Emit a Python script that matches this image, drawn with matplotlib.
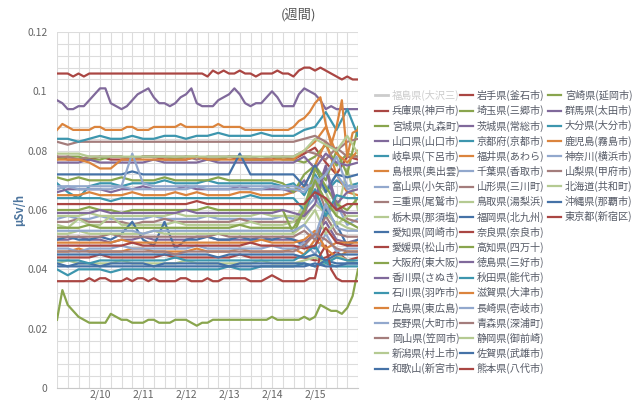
import numpy as np
import matplotlib.pyplot as plt
from matplotlib.ticker import MultipleLocator, FixedLocator, FixedFormatter

plt.rcParams['font.family'] = ['Noto Sans CJK JP', 'DejaVu Sans']

# time axis: hours from 2/9 00:00, readings
hours_3h = np.arange(0, 169, 3)
hours_6h = np.arange(0, 169, 6)

day_ticks = [1, 2, 3, 4, 5, 6]
day_labels = ['2/10', '2/11', '2/12', '2/13', '2/14', '2/15']
y_ticks = [0, 0.02, 0.04, 0.06, 0.08, 0.1, 0.12]
y_labels = ['0', '0.02', '0.04', '0.06', '0.08', '0.1', '0.12']

# --- 3 hour series (the ones that stand out) ---
iwate = [0.106,0.106,0.106,0.105,0.106,0.105,0.106,0.106,0.106,0.106,
         0.106,0.106,0.106,0.106,0.106,0.106,0.106,0.106,0.106,0.106,
         0.106,0.106,0.106,0.106,0.106,0.106,0.106,0.106,0.105,0.107,
         0.106,0.107,0.106,0.106,0.107,0.106,0.106,0.105,0.106,0.106,
         0.106,0.107,0.106,0.106,0.105,0.107,0.108,0.108,0.107,0.108,
         0.107,0.106,0.105,0.104,0.105,0.104,0.104]
gunma = [0.097,0.096,0.094,0.094,0.095,0.095,0.097,0.099,0.101,0.101,
         0.096,0.095,0.094,0.095,0.097,0.099,0.100,0.101,0.098,0.096,
         0.096,0.095,0.096,0.098,0.099,0.101,0.096,0.095,0.095,0.095,
         0.097,0.098,0.099,0.101,0.099,0.096,0.095,0.096,0.096,0.098,
         0.100,0.098,0.095,0.095,0.095,0.099,0.101,0.100,0.099,0.097,
         0.094,0.095,0.094,0.094,0.094,0.094,0.094]
osaka = [0.023,0.033,0.028,0.026,0.024,0.023,0.022,0.022,0.022,0.022,
         0.025,0.024,0.023,0.023,0.022,0.022,0.022,0.023,0.023,0.022,
         0.022,0.022,0.023,0.023,0.023,0.022,0.021,0.022,0.022,0.023,
         0.023,0.023,0.023,0.023,0.023,0.023,0.023,0.023,0.023,0.023,
         0.024,0.023,0.023,0.023,0.023,0.023,0.024,0.023,0.024,0.028,
         0.027,0.026,0.026,0.025,0.027,0.031,0.040]
nara = [0.036,0.036,0.036,0.036,0.036,0.036,0.037,0.036,0.037,0.037,
        0.036,0.036,0.036,0.037,0.036,0.037,0.037,0.036,0.037,0.036,
        0.036,0.036,0.036,0.037,0.037,0.036,0.036,0.036,0.037,0.036,
        0.036,0.037,0.037,0.037,0.037,0.037,0.036,0.036,0.036,0.037,
        0.038,0.037,0.036,0.036,0.036,0.036,0.036,0.037,0.037,0.045,
        0.048,0.040,0.037,0.036,0.036,0.036,0.036]
kagoshima = [0.087,0.089,0.088,0.087,0.087,0.087,0.087,0.088,0.088,0.087,
             0.087,0.087,0.087,0.088,0.088,0.087,0.087,0.087,0.088,0.088,
             0.088,0.088,0.088,0.089,0.088,0.088,0.088,0.088,0.088,0.088,
             0.089,0.088,0.088,0.088,0.088,0.087,0.087,0.087,0.087,0.087,
             0.087,0.087,0.087,0.087,0.088,0.090,0.091,0.093,0.096,0.098,
             0.089,0.082,0.088,0.097,0.078,0.086,0.087]

# --- 6 hour series ---
hyogo = [0.078,0.077,0.077,0.077,0.078,0.077,0.077,0.077,0.078,0.078,0.077,0.077,0.077,0.078,0.077,0.077,0.078,0.077,0.077,0.077,0.077,0.078,0.077,0.079,0.081,0.076,0.072,0.078,0.077]
miyagi = [0.077,0.078,0.078,0.077,0.077,0.078,0.078,0.077,0.078,0.078,0.078,0.077,0.078,0.078,0.077,0.077,0.078,0.078,0.077,0.077,0.078,0.077,0.077,0.076,0.078,0.082,0.075,0.079,0.078]
yamaguchi = [0.050,0.050,0.051,0.050,0.050,0.049,0.050,0.050,0.051,0.050,0.050,0.050,0.050,0.051,0.051,0.050,0.050,0.050,0.050,0.051,0.050,0.050,0.050,0.049,0.052,0.056,0.050,0.049,0.050]
gifu = [0.069,0.066,0.064,0.068,0.069,0.069,0.068,0.069,0.069,0.069,0.070,0.069,0.069,0.069,0.070,0.069,0.069,0.069,0.069,0.069,0.069,0.068,0.069,0.065,0.072,0.066,0.070,0.068,0.069]
shimane = [0.065,0.065,0.065,0.066,0.065,0.065,0.065,0.066,0.065,0.065,0.065,0.066,0.065,0.066,0.065,0.065,0.065,0.066,0.066,0.065,0.065,0.065,0.066,0.068,0.075,0.083,0.072,0.066,0.065]
toyama = [0.057,0.058,0.057,0.057,0.058,0.057,0.057,0.057,0.057,0.058,0.057,0.057,0.057,0.057,0.058,0.057,0.057,0.057,0.057,0.057,0.057,0.058,0.057,0.060,0.064,0.058,0.062,0.055,0.057]
mie = [0.056,0.056,0.057,0.056,0.056,0.056,0.056,0.055,0.056,0.056,0.057,0.056,0.056,0.056,0.056,0.056,0.056,0.057,0.056,0.056,0.056,0.056,0.056,0.058,0.070,0.060,0.063,0.057,0.056]
tochigi = [0.055,0.054,0.057,0.055,0.055,0.058,0.055,0.055,0.055,0.055,0.055,0.056,0.055,0.055,0.055,0.055,0.055,0.055,0.056,0.055,0.055,0.055,0.056,0.062,0.070,0.066,0.058,0.074,0.060]
aichi = [0.050,0.051,0.050,0.050,0.051,0.050,0.052,0.056,0.050,0.048,0.056,0.047,0.050,0.050,0.051,0.050,0.050,0.051,0.050,0.050,0.050,0.051,0.050,0.048,0.047,0.060,0.055,0.048,0.050]
ehime = [0.044,0.044,0.044,0.044,0.045,0.044,0.044,0.044,0.044,0.044,0.045,0.044,0.044,0.044,0.044,0.044,0.044,0.045,0.044,0.044,0.044,0.044,0.044,0.044,0.043,0.044,0.046,0.043,0.044]
kagawa = [0.066,0.067,0.067,0.067,0.067,0.066,0.067,0.067,0.068,0.067,0.067,0.067,0.068,0.067,0.067,0.067,0.067,0.068,0.067,0.067,0.067,0.067,0.066,0.070,0.064,0.075,0.062,0.066,0.067]
ishikawa = [0.040,0.038,0.040,0.040,0.040,0.039,0.040,0.040,0.040,0.040,0.040,0.040,0.040,0.040,0.040,0.040,0.041,0.040,0.040,0.041,0.041,0.041,0.041,0.042,0.041,0.042,0.041,0.041,0.041]
hiroshima = [0.046,0.046,0.047,0.046,0.046,0.046,0.046,0.047,0.047,0.046,0.046,0.046,0.046,0.047,0.046,0.046,0.046,0.047,0.046,0.046,0.046,0.046,0.047,0.045,0.050,0.047,0.044,0.046,0.046]
nagano = [0.047,0.047,0.046,0.047,0.047,0.047,0.048,0.047,0.047,0.047,0.047,0.047,0.047,0.048,0.047,0.047,0.047,0.047,0.047,0.047,0.048,0.047,0.047,0.049,0.045,0.052,0.046,0.047,0.047]
okayama = [0.078,0.078,0.077,0.078,0.078,0.078,0.078,0.077,0.078,0.078,0.078,0.078,0.078,0.077,0.078,0.078,0.078,0.078,0.078,0.077,0.078,0.078,0.078,0.080,0.079,0.077,0.081,0.078,0.078]
niigata = [0.042,0.043,0.042,0.042,0.042,0.042,0.043,0.042,0.042,0.042,0.042,0.042,0.043,0.042,0.042,0.042,0.042,0.042,0.042,0.043,0.042,0.042,0.042,0.043,0.044,0.042,0.045,0.043,0.042]
wakayama = [0.042,0.041,0.042,0.042,0.041,0.042,0.042,0.042,0.042,0.041,0.042,0.042,0.042,0.042,0.042,0.042,0.041,0.042,0.042,0.042,0.042,0.042,0.042,0.042,0.041,0.043,0.042,0.042,0.042]
saitama = [0.071,0.070,0.071,0.070,0.070,0.070,0.071,0.070,0.070,0.070,0.071,0.070,0.070,0.070,0.070,0.071,0.070,0.070,0.070,0.070,0.070,0.069,0.066,0.072,0.075,0.070,0.080,0.072,0.088]
ibaraki = [0.076,0.076,0.076,0.077,0.076,0.076,0.076,0.076,0.076,0.077,0.076,0.076,0.076,0.076,0.077,0.076,0.076,0.076,0.076,0.076,0.076,0.076,0.076,0.078,0.074,0.079,0.076,0.075,0.076]
kyoto = [0.043,0.043,0.043,0.042,0.043,0.043,0.043,0.043,0.043,0.043,0.043,0.044,0.043,0.043,0.043,0.043,0.043,0.043,0.043,0.043,0.043,0.043,0.043,0.045,0.048,0.042,0.044,0.043,0.043]
fukui = [0.077,0.077,0.077,0.076,0.074,0.074,0.077,0.077,0.077,0.077,0.077,0.077,0.077,0.078,0.077,0.077,0.077,0.077,0.077,0.077,0.077,0.077,0.077,0.080,0.083,0.088,0.079,0.076,0.080]
chiba = [0.067,0.068,0.067,0.067,0.067,0.067,0.068,0.067,0.067,0.067,0.067,0.067,0.067,0.068,0.067,0.067,0.067,0.067,0.067,0.067,0.068,0.067,0.067,0.066,0.071,0.067,0.072,0.067,0.068]
yamagata = [0.051,0.051,0.051,0.051,0.051,0.052,0.051,0.051,0.051,0.051,0.051,0.051,0.051,0.051,0.051,0.052,0.051,0.051,0.051,0.051,0.051,0.051,0.051,0.053,0.050,0.058,0.052,0.051,0.051]
tottori = [0.058,0.058,0.058,0.059,0.058,0.058,0.058,0.058,0.058,0.058,0.058,0.059,0.058,0.058,0.058,0.058,0.058,0.058,0.058,0.059,0.058,0.058,0.058,0.057,0.062,0.059,0.055,0.058,0.058]
fukuoka = [0.072,0.072,0.072,0.072,0.072,0.072,0.072,0.073,0.072,0.072,0.072,0.072,0.072,0.072,0.072,0.072,0.072,0.079,0.072,0.072,0.072,0.072,0.072,0.068,0.075,0.066,0.072,0.071,0.072]
kochi = [0.060,0.060,0.060,0.061,0.060,0.060,0.059,0.060,0.060,0.060,0.060,0.060,0.060,0.060,0.061,0.060,0.060,0.060,0.060,0.060,0.060,0.060,0.052,0.060,0.074,0.068,0.062,0.060,0.064]
tokushima = [0.059,0.059,0.059,0.059,0.060,0.059,0.059,0.059,0.059,0.059,0.059,0.059,0.060,0.059,0.059,0.059,0.059,0.059,0.059,0.059,0.059,0.060,0.059,0.058,0.062,0.074,0.060,0.059,0.059]
akita = [0.064,0.064,0.064,0.064,0.064,0.063,0.064,0.064,0.064,0.064,0.064,0.064,0.064,0.064,0.064,0.064,0.064,0.064,0.065,0.064,0.064,0.064,0.064,0.060,0.067,0.058,0.065,0.064,0.064]
shiga = [0.049,0.049,0.049,0.049,0.049,0.049,0.050,0.049,0.049,0.049,0.049,0.049,0.049,0.049,0.049,0.049,0.049,0.049,0.049,0.050,0.049,0.049,0.049,0.050,0.053,0.047,0.049,0.049,0.049]
nagasaki = [0.068,0.068,0.068,0.068,0.068,0.068,0.068,0.079,0.069,0.068,0.068,0.068,0.068,0.068,0.068,0.068,0.068,0.068,0.068,0.068,0.068,0.068,0.068,0.067,0.069,0.072,0.078,0.068,0.068]
aomori = [0.083,0.082,0.083,0.083,0.083,0.083,0.083,0.083,0.083,0.083,0.083,0.083,0.083,0.083,0.083,0.083,0.083,0.083,0.083,0.083,0.083,0.083,0.083,0.084,0.085,0.083,0.080,0.083,0.084]
shizuoka = [0.052,0.052,0.053,0.052,0.052,0.052,0.052,0.052,0.052,0.053,0.052,0.052,0.052,0.052,0.052,0.052,0.052,0.052,0.052,0.052,0.052,0.052,0.052,0.055,0.060,0.052,0.056,0.054,0.053]
saga = [0.045,0.045,0.045,0.045,0.045,0.045,0.045,0.045,0.045,0.045,0.045,0.045,0.045,0.045,0.045,0.044,0.045,0.045,0.045,0.045,0.045,0.045,0.045,0.044,0.045,0.043,0.045,0.045,0.045]
kumamoto = [0.048,0.048,0.048,0.048,0.048,0.048,0.048,0.049,0.048,0.048,0.048,0.048,0.048,0.048,0.048,0.048,0.048,0.048,0.049,0.048,0.048,0.048,0.048,0.047,0.048,0.054,0.049,0.048,0.048]
miyazaki = [0.054,0.054,0.054,0.055,0.054,0.054,0.054,0.054,0.054,0.054,0.054,0.054,0.054,0.054,0.054,0.054,0.054,0.055,0.054,0.054,0.054,0.054,0.054,0.060,0.070,0.063,0.058,0.056,0.054]
oita = [0.084,0.084,0.083,0.084,0.085,0.084,0.084,0.085,0.084,0.084,0.085,0.085,0.084,0.085,0.085,0.086,0.085,0.085,0.085,0.086,0.085,0.085,0.085,0.087,0.088,0.093,0.087,0.094,0.085]
kanagawa = [0.053,0.053,0.053,0.053,0.053,0.053,0.053,0.053,0.052,0.053,0.053,0.053,0.053,0.053,0.053,0.053,0.053,0.053,0.053,0.053,0.053,0.053,0.053,0.055,0.051,0.062,0.054,0.053,0.053]
yamanashi = [0.046,0.046,0.046,0.046,0.046,0.046,0.046,0.046,0.046,0.046,0.046,0.045,0.046,0.046,0.046,0.046,0.046,0.046,0.046,0.046,0.046,0.046,0.046,0.048,0.052,0.050,0.047,0.046,0.046]
hokkaido = [0.079,0.079,0.079,0.078,0.078,0.078,0.078,0.078,0.078,0.078,0.078,0.078,0.078,0.078,0.078,0.078,0.078,0.078,0.078,0.078,0.078,0.078,0.078,0.080,0.084,0.082,0.080,0.085,0.079]
okinawa = [0.041,0.041,0.041,0.041,0.041,0.041,0.041,0.041,0.041,0.041,0.041,0.041,0.041,0.041,0.041,0.041,0.041,0.041,0.041,0.041,0.041,0.041,0.041,0.041,0.042,0.041,0.041,0.042,0.042]
tokyo = [0.062,0.062,0.062,0.062,0.062,0.062,0.062,0.062,0.062,0.062,0.062,0.062,0.062,0.063,0.062,0.062,0.062,0.062,0.062,0.062,0.062,0.062,0.062,0.062,0.066,0.064,0.060,0.062,0.062]

# series order (legend is column major), None = hidden series
names = ['福島県(大沢三)', '兵庫県(神戸市)', '宮城県(丸森町)', '山口県(山口市)', '岐阜県(下呂市)',
         '島根県(奥出雲)', '富山県(小矢部)', '三重県(尾鷲市)', '栃木県(那須塩)', '愛知県(岡崎市)',
         '愛媛県(松山市)', '大阪府(東大阪)', '香川県(さぬき)', '石川県(羽咋市)', '広島県(東広島)',
         '長野県(大町市)', '岡山県(笠岡市)', '新潟県(村上市)', '和歌山(新宮市)',
         '岩手県(釜石市)', '埼玉県(三郷市)', '茨城県(常総市)', '京都府(京都市)', '福井県(あわら)',
         '千葉県(香取市)', '山形県(三川町)', '鳥取県(湯梨浜)', '福岡県(北九州)', '奈良県(奈良市)',
         '高知県(四万十)', '徳島県(三好市)', '秋田県(能代市)', '滋賀県(大津市)', '長崎県(壱岐市)',
         '青森県(深浦町)', '静岡県(御前崎)', '佐賀県(武雄市)', '熊本県(八代市)',
         '宮崎県(延岡市)', '群馬県(太田市)', '大分県(大分市)', '鹿児島(霧島市)', '神奈川(横浜市)',
         '山梨県(甲府市)', '北海道(共和町)', '沖縄県(那覇市)', '東京都(新宿区)']
values = [None, hyogo, miyagi, yamaguchi, gifu, shimane, toyama, mie, tochigi, aichi,
          ehime, osaka, kagawa, ishikawa, hiroshima, nagano, okayama, niigata, wakayama,
          iwate, saitama, ibaraki, kyoto, fukui, chiba, yamagata, tottori, fukuoka, nara,
          kochi, tokushima, akita, shiga, nagasaki, aomori, shizuoka, saga, kumamoto,
          miyazaki, gunma, oita, kagoshima, kanagawa, yamanashi, hokkaido, okinawa, tokyo]

palette = ['#4572A7', '#AA4643', '#89A54E', '#80699B', '#3D96AE',
           '#DB843D', '#92A8CD', '#A47D7C', '#B5CA92']

fig = plt.figure(figsize=(6.4, 4.0), dpi=100)
ax = fig.add_axes([57/640, 12/400, 301/640, 356/400])

handles = []
for k, (name, vals) in enumerate(zip(names, values)):
    if vals is None:
        h, = ax.plot([], [], color='#CCCCCC', lw=2)
    else:
        t = hours_3h if len(vals) == len(hours_3h) else hours_6h
        h, = ax.plot(t / 24, vals, color=palette[k % 9], lw=1.6,
                     solid_joinstyle='round')
    handles.append(h)

ax.set_xlim(0, 7)
ax.set_ylim(0, 0.12)
ax.xaxis.set_major_locator(FixedLocator(day_ticks))
ax.xaxis.set_major_formatter(FixedFormatter(day_labels))
ax.xaxis.set_minor_locator(MultipleLocator(0.25))
ax.yaxis.set_major_locator(FixedLocator(y_ticks))
ax.yaxis.set_major_formatter(FixedFormatter(y_labels))
ax.yaxis.set_minor_locator(MultipleLocator(0.004))
ax.grid(which='both', color='#DCDCDC', lw=0.8)
ax.set_axisbelow(True)
ax.tick_params(which='both', length=0, colors='#666666', labelsize=7.5)
ax.tick_params(axis='y', pad=7)
ax.tick_params(axis='x', pad=1)
for s in ['top', 'right', 'left']:
    ax.spines[s].set_visible(False)
ax.spines['bottom'].set_color('#C8C8C8')

fig.text(20/640, 1 - 210/400, 'μSv/h', rotation=90, ha='center', va='center',
         color='#4d759e', fontsize=8, fontweight='bold')
fig.text(298/640, 1 - 15/400, '(週間)', ha='center', va='center',
         color='#555555', fontsize=9.5)

# legend: three columns of 19, 19, 9 items
cols = [(0, 19, 375), (19, 38, 460), (38, 47, 548)]
for a, b, xpix in cols:
    leg = fig.legend(handles[a:b], names[a:b], loc='upper left',
                     bbox_to_anchor=(xpix/640, 1 - 90/400), frameon=False,
                     fontsize=7.3, handlelength=1.25, handletextpad=0.4,
                     labelspacing=0.4, borderpad=0, borderaxespad=0)
    for txt in leg.get_texts():
        txt.set_color('#555a66')
    if a == 0:
        leg.get_texts()[0].set_color('#CCCCCC')

fig.savefig('out.png', dpi=100)
